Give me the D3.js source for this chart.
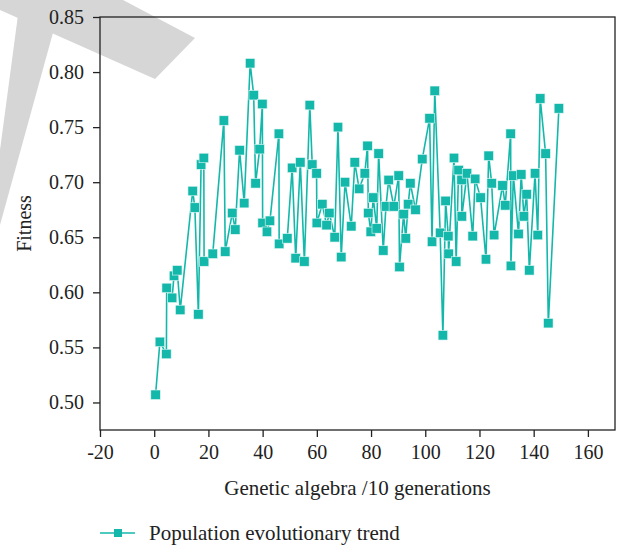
<!DOCTYPE html>
<html>
<head>
<meta charset="utf-8">
<script src="https://cdn.jsdelivr.net/npm/d3@7"></script>
<style>
  html, body { margin: 0; padding: 0; background: #fff; }
  svg { display: block; }
  text { font-family: "Liberation Serif", "DejaVu Serif", serif; fill: #222; }
</style>
</head>
<body>
<div id="chart"></div>
<script>
// Generation (x10) and fitness
const generations = [
    0.5, 2.1, 4.5, 4.6, 6.6, 7.3, 8.5, 9.6, 14.2, 15.0,
    16.3, 17.3, 18.3, 18.4, 21.6, 25.7, 26.2, 28.8, 29.9, 31.5,
    33.2, 35.4, 36.7, 37.4, 38.9, 39.9, 40.0, 41.6, 42.7, 46.0,
    46.1, 49.1, 50.9, 52.2, 53.9, 55.4, 57.4, 58.3, 59.9, 60.0,
    62.0, 63.6, 64.6, 66.6, 67.8, 69.0, 70.4, 72.7, 74.0, 75.6,
    77.7, 78.7, 79.0, 79.9, 80.8, 82.1, 82.8, 84.5, 85.5, 86.5,
    88.4, 90.2, 90.5, 92.0, 92.8, 93.7, 94.5, 96.4, 98.9, 101.6,
    102.5, 103.5, 105.5, 106.5, 107.5, 108.5, 108.6, 110.6, 111.4, 112.3,
    113.4, 113.5, 115.4, 117.5, 118.4, 120.4, 122.4, 123.4, 124.5, 125.4,
    128.5, 129.5, 131.5, 131.6, 132.5, 134.4, 135.4, 136.4, 137.4, 138.4,
    140.5, 141.5, 142.4, 144.4, 145.4, 149.3
];
const fitness = [
    0.507, 0.555, 0.544, 0.604, 0.595, 0.615, 0.620, 0.584, 0.692, 0.677,
    0.580, 0.716, 0.722, 0.628, 0.635, 0.756, 0.637, 0.672, 0.657, 0.729,
    0.681, 0.808, 0.779, 0.699, 0.730, 0.771, 0.663, 0.655, 0.665, 0.744,
    0.644, 0.649, 0.713, 0.631, 0.718, 0.628, 0.770, 0.716, 0.708, 0.663,
    0.680, 0.661, 0.672, 0.650, 0.750, 0.632, 0.700, 0.660, 0.718, 0.694,
    0.708, 0.733, 0.672, 0.655, 0.686, 0.658, 0.726, 0.638, 0.678, 0.702,
    0.678, 0.706, 0.623, 0.671, 0.649, 0.680, 0.699, 0.675, 0.721, 0.758,
    0.646, 0.783, 0.654, 0.561, 0.683, 0.651, 0.635, 0.722, 0.628, 0.711,
    0.702, 0.669, 0.708, 0.651, 0.703, 0.686, 0.630, 0.724, 0.699, 0.652,
    0.697, 0.679, 0.744, 0.624, 0.706, 0.653, 0.707, 0.669, 0.689, 0.620,
    0.708, 0.652, 0.776, 0.726, 0.572, 0.767
];
const xTicks = [-20, 0, 20, 40, 60, 80, 100, 120, 140, 160];
const yTicks = [0.50, 0.55, 0.60, 0.65, 0.70, 0.75, 0.80, 0.85];
const seriesName = "Population evolutionary trend";
const xTitle = "Genetic algebra /10 generations";
const yTitle = "Fitness";

const W = 621, H = 546;
const margin = { top: 17, right: 6, bottom: 116, left: 100 };
const color = "#14b8ab";

const svg = d3.select("#chart").append("svg")
    .attr("width", W)
    .attr("height", H);

// watermark in the corner
svg.append("g")
    .attr("fill", "#d6d6d6")
    .selectAll("polygon")
    .data([
        [[0, 0], [123, 0], [195, 38], [155, 79], [0, 10]],
        [[20, 0], [62, 0], [0, 225], [0, 150]]
    ])
    .join("polygon")
    .attr("points", d => d.map(p => p.join(",")).join(" "));

const x = d3.scaleLinear()
    .domain([-20, 170])
    .range([margin.left, W - margin.right]);
const y = d3.scaleLinear()
    .domain([0.475, 0.85])
    .range([H - margin.bottom, margin.top]);

// frame
svg.append("rect")
    .attr("x", x.range()[0])
    .attr("y", y.range()[1])
    .attr("width", x.range()[1] - x.range()[0])
    .attr("height", y.range()[0] - y.range()[1])
    .attr("fill", "none")
    .attr("stroke", "#222")
    .attr("stroke-width", 1.3);

// x axis
const xAxis = svg.append("g")
    .attr("transform", `translate(0,${y.range()[0]})`);
xAxis.call(d3.axisBottom(x).tickValues(d3.range(-10, 170, 20)).tickSize(4).tickFormat(""));
xAxis.call(d3.axisBottom(x).tickValues(xTicks).tickSize(7).tickPadding(8).tickFormat(d => d));
xAxis.selectAll(".domain").remove();

// y axis
const yAxis = svg.append("g")
    .attr("transform", `translate(${x.range()[0]},0)`);
yAxis.call(d3.axisLeft(y).tickValues(d3.range(0.525, 0.85, 0.05)).tickSize(7).tickFormat(""));
yAxis.call(d3.axisLeft(y).tickValues(yTicks).tickSize(7).tickPadding(9).tickFormat(d3.format(".2f")));
yAxis.selectAll(".domain").remove();

svg.selectAll(".tick line").attr("stroke", "#222").attr("stroke-width", 1.3);
svg.selectAll(".tick text")
    .style("font-family", "'Liberation Serif', serif")
    .style("font-size", "20px")
    .attr("fill", "#222");

// titles
svg.append("text")
    .attr("x", (x.range()[0] + x.range()[1]) / 2)
    .attr("y", 495)
    .attr("text-anchor", "middle")
    .style("font-size", "21px")
    .text(xTitle);
svg.append("text")
    .attr("transform", `translate(31,${(y.range()[0] + y.range()[1]) / 2}) rotate(-90)`)
    .attr("text-anchor", "middle")
    .style("font-size", "20px")
    .text(yTitle);

// series
const data = generations.map((g, i) => ({ g: g, f: fitness[i] }));
const line = d3.line()
    .x(d => x(d.g))
    .y(d => y(d.f));
svg.append("path")
    .datum(data)
    .attr("fill", "none")
    .attr("stroke", color)
    .attr("stroke-width", 1.6)
    .attr("d", line);
const s = 9.5;
svg.append("g")
    .selectAll("rect")
    .data(data)
    .join("rect")
    .attr("x", d => x(d.g) - s / 2)
    .attr("y", d => y(d.f) - s / 2)
    .attr("width", s)
    .attr("height", s)
    .attr("fill", color)
    .attr("stroke", "#e6f7f5")
    .attr("stroke-width", 0.6);

// legend
const legend = svg.append("g").attr("transform", "translate(100,533)");
legend.append("line")
    .attr("x1", 0).attr("x2", 35)
    .attr("stroke", color).attr("stroke-width", 1.6);
legend.append("rect")
    .attr("x", 14).attr("y", -4)
    .attr("width", 8).attr("height", 8)
    .attr("fill", color);
legend.append("text")
    .attr("x", 49)
    .attr("y", 7)
    .style("font-size", "21px")
    .text(seriesName);
</script>
</body>
</html>
